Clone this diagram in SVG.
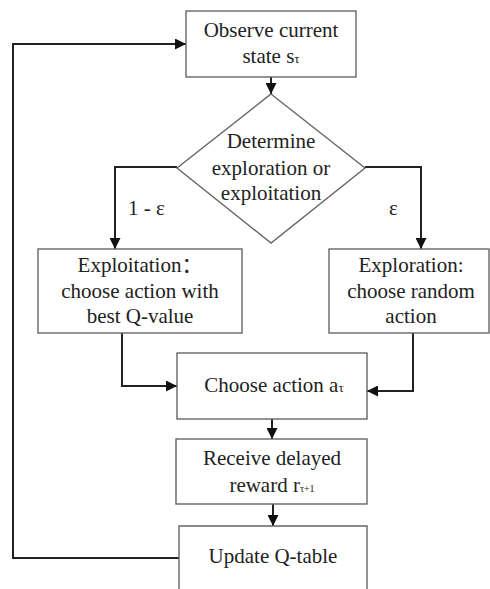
<svg xmlns="http://www.w3.org/2000/svg" width="490" height="589" viewBox="0 0 490 589">
<style>
.box{fill:#fff;stroke:#666;stroke-width:1.4}
.t{font-family:"Liberation Serif","Times New Roman","Noto Sans CJK SC",serif;font-size:21px;fill:#222;text-anchor:middle}
.lbl{font-family:"Liberation Serif","Times New Roman",serif;font-size:21px;fill:#222}
.sub{font-size:13px}
.sub2{font-size:10px}
.c{fill:none;stroke:#222;stroke-width:2}
</style>
<defs>
<marker id="ah" viewBox="0 0 10 10" refX="10" refY="5" markerWidth="5.5" markerHeight="5.5" orient="auto" markerUnits="strokeWidth">
<path d="M0,0 L10,5 L0,10 z" fill="#111"/>
</marker>
</defs>
<rect width="490" height="589" fill="#fff"/>
<g id="connectors">
<path class="c" d="M271,77 V94" marker-end="url(#ah)"/>
<path class="c" d="M177,167 H115 V249" marker-end="url(#ah)"/>
<path class="c" d="M365,167 H421 V249" marker-end="url(#ah)"/>
<path class="c" d="M122,333 V386 H177" marker-end="url(#ah)"/>
<path class="c" d="M413,333 V391 H367" marker-end="url(#ah)"/>
<path class="c" d="M272,419 V439" marker-end="url(#ah)"/>
<path class="c" d="M273,504 V526" marker-end="url(#ah)"/>
<path class="c" d="M179,558 H13 V44 H186" marker-end="url(#ah)"/>
<text class="lbl" x="128" y="215">1 - ε</text>
<text class="lbl" x="389" y="215">ε</text>
</g>
<g id="observe">
<rect class="box" x="186" y="11" width="170" height="66"/>
<text class="t" x="271" y="37">Observe current</text>
<text class="t" x="271" y="63">state s<tspan class="sub">τ</tspan></text>
</g>
<g id="determine">
<polygon class="box" points="271,94 365,168 271,243 177,168"/>
<text class="t" x="271" y="148">Determine</text>
<text class="t" x="271" y="175">exploration or</text>
<text class="t" x="271" y="200">exploitation</text>
</g>
<g id="exploitation">
<rect class="box" x="38" y="249" width="204" height="84"/>
<text class="t" x="140" y="272">Exploitation：</text>
<text class="t" x="140" y="298">choose action with</text>
<text class="t" x="140" y="323">best Q-value</text>
</g>
<g id="exploration">
<rect class="box" x="329" y="249" width="160" height="84"/>
<text class="t" x="411" y="272">Exploration:</text>
<text class="t" x="411" y="298">choose random</text>
<text class="t" x="411" y="323">action</text>
</g>
<g id="choose">
<rect class="box" x="177" y="353" width="190" height="66"/>
<text class="t" x="274" y="392">Choose action a<tspan class="sub">τ</tspan></text>
</g>
<g id="receive">
<rect class="box" x="176" y="439" width="191" height="65"/>
<text class="t" x="272" y="465">Receive delayed</text>
<text class="t" x="272" y="492">reward r<tspan class="sub2">τ+1</tspan></text>
</g>
<g id="update">
<path class="box" d="M179,590 V526 H367 V590"/>
<text class="t" x="273" y="563">Update Q-table</text>
</g>
</svg>
